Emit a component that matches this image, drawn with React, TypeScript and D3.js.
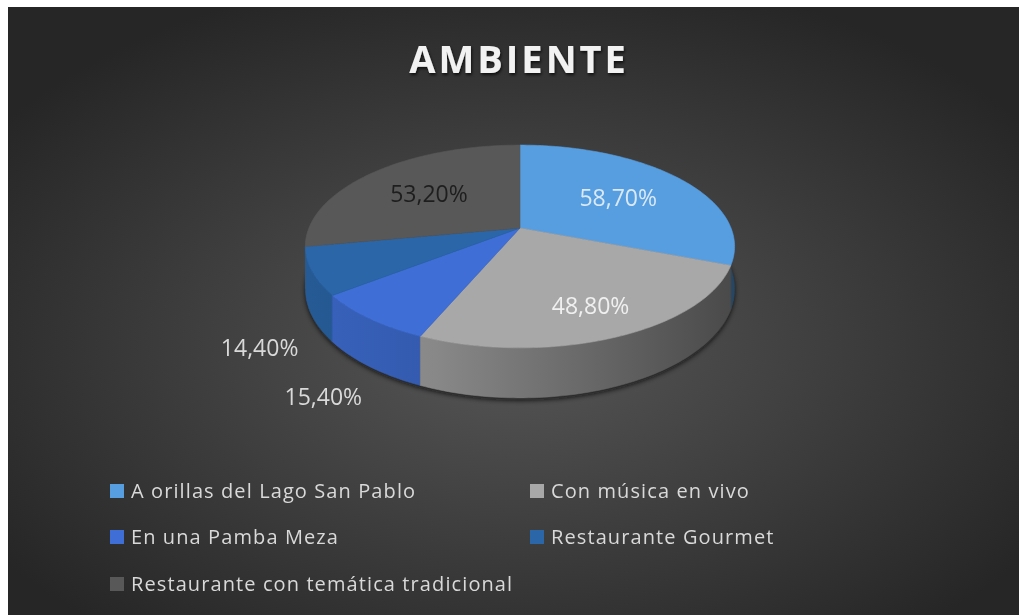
import { useEffect, useRef } from 'react';
import * as d3 from 'd3';

// datos del gráfico
const categories = [
  'A orillas del Lago San Pablo',
  'Con música en vivo',
  'En una Pamba Meza',
  'Restaurante Gourmet',
  'Restaurante con temática tradicional',
];
const values = [58.7, 48.8, 15.4, 14.4, 53.2];
const valueLabels = ['58,70%', '48,80%', '15,40%', '14,40%', '53,20%'];
const colors = ['#579ee0', '#a8a8a8', '#3f6fd6', '#2a66a8', '#585858'];

const width = 1011;
const height = 608;

const App = () => {
  const svgRef = useRef<SVGSVGElement>(null);

  useEffect(() => {
    const svg = d3.select(svgRef.current);
    svg.selectAll('*').remove();
    svg.attr('width', width).attr('height', height);

    const defs = svg.append('defs');

    // fondo con degradado radial
    const bg = defs.append('radialGradient').attr('id', 'bg')
      .attr('cx', '50%').attr('cy', '55%').attr('r', '62%');
    bg.append('stop').attr('offset', '0%').attr('stop-color', '#575757');
    bg.append('stop').attr('offset', '100%').attr('stop-color', '#262626');
    svg.append('rect').attr('width', width).attr('height', height).attr('fill', 'url(#bg)');

    const shadow = defs.append('filter').attr('id', 'tshadow')
      .attr('x', '-10%').attr('y', '-30%').attr('width', '120%').attr('height', '160%');
    shadow.append('feDropShadow').attr('dx', 1).attr('dy', 2)
      .attr('stdDeviation', 1.5).attr('flood-color', '#000').attr('flood-opacity', 0.7);

    const blur = defs.append('filter').attr('id', 'blur');
    blur.append('feGaussianBlur').attr('stdDeviation', 2.5);

    // título
    svg.append('text')
      .attr('x', 511).attr('y', 66)
      .attr('text-anchor', 'middle')
      .attr('font-family', "'Open Sans', sans-serif")
      .attr('font-weight', 700)
      .attr('font-size', 38)
      .attr('letter-spacing', 3)
      .attr('fill', '#f2f2f2')
      .attr('filter', 'url(#tshadow)')
      .text('AMBIENTE');

    // pastel 3D con perspectiva
    const cx = 512, cy = 221;
    const A = 211, B = 98, k = 0.182, depth = 41;
    const proj = (a: number, r: number, h: number): [number, number] => {
      const x = r * Math.sin(a);
      const z = -r * Math.cos(a);
      const w = 1 - k * z;
      return [cx + (A * x) / w, cy + (B * z + depth * h) / w];
    };
    const arcPts = (a0: number, a1: number, r: number, h: number) => {
      const n = Math.max(2, Math.ceil(Math.abs(a1 - a0) / 0.02));
      return d3.range(n + 1).map(i => proj(a0 + ((a1 - a0) * i) / n, r, h));
    };
    const line = d3.line().curve(d3.curveLinear);

    const pie = d3.pie<number>().value(d => d).sort(null);
    const slices = pie(values);

    const g = svg.append('g');

    // sombra bajo el pastel
    g.append('path')
      .attr('d', line(arcPts(0, Math.PI * 2, 1.0, 1.05)) + 'Z')
      .attr('fill', '#0a0a0a')
      .attr('opacity', 0.8)
      .attr('filter', 'url(#blur)');

    // paredes laterales (solo la parte frontal)
    const lo = Math.PI / 2 - 0.3, hi = Math.PI * 1.5 + 0.3;
    const walls = slices
      .map((s, i) => ({ i, a0: Math.max(s.startAngle, lo), a1: Math.min(s.endAngle, hi) }))
      .filter(w => w.a1 > w.a0)
      .sort((p, q) => Math.abs((q.a0 + q.a1) / 2 - Math.PI) - Math.abs((p.a0 + p.a1) / 2 - Math.PI));

    walls.forEach(w => {
      const c = d3.color(colors[w.i])!;
      const gid = `wall${w.i}`;
      const lg = defs.append('linearGradient').attr('id', gid)
        .attr('gradientUnits', 'userSpaceOnUse')
        .attr('x1', cx - A).attr('x2', cx + A).attr('y1', 0).attr('y2', 0);
      lg.append('stop').attr('offset', '0%').attr('stop-color', c.darker(0.35).formatHex());
      lg.append('stop').attr('offset', '30%').attr('stop-color', c.darker(0.6).formatHex());
      lg.append('stop').attr('offset', '100%').attr('stop-color', c.darker(2.3).formatHex());
      const top = arcPts(w.a0, w.a1, 1, 0);
      const bottom = arcPts(w.a0, w.a1, 1, 1).reverse();
      g.append('path')
        .attr('d', line([...top, ...bottom]) + 'Z')
        .attr('fill', `url(#${gid})`)
        .attr('stroke', `url(#${gid})`)
        .attr('stroke-width', 0.6);
    });

    // cara superior
    slices.forEach((s, i) => {
      const pts = [proj(0, 0, 0), ...arcPts(s.startAngle, s.endAngle, 1, 0)];
      g.append('path')
        .attr('d', line(pts) + 'Z')
        .attr('fill', colors[i])
        .attr('stroke', colors[i])
        .attr('stroke-width', 0.6)
        .attr('stroke-linejoin', 'round');
    });

    // etiquetas de datos
    const labelRadius = [0.6, 0.75, 1.25, 1.25, 0.6];
    const labelLift = [0, 0, 1, 1.4, 0];
    const labelColors = ['#dbe9f7', '#f0f0f0', '#d9d9d9', '#d9d9d9', '#1e1e1e'];
    slices.forEach((s, i) => {
      const mid = (s.startAngle + s.endAngle) / 2;
      const [x, y] = proj(mid, labelRadius[i], labelLift[i]);
      g.append('text')
        .attr('x', x + (i === 3 ? 5 : 0)).attr('y', y)
        .attr('text-anchor', 'middle')
        .attr('dominant-baseline', 'central')
        .attr('font-family', "'Open Sans', sans-serif")
        .attr('font-size', 23)
        .attr('fill', labelColors[i])
        .text(valueLabels[i]);
    });

    // leyenda
    const legend = svg.append('g')
      .attr('font-family', "'Open Sans', sans-serif")
      .attr('font-size', 20)
      .attr('fill', '#d9d9d9');
    const colX = [102, 522];
    const rowY = [491, 537, 584];
    categories.forEach((name, i) => {
      const x = colX[i % 2];
      const y = rowY[Math.floor(i / 2)];
      legend.append('rect')
        .attr('x', x).attr('y', y - 14)
        .attr('width', 14).attr('height', 14)
        .attr('fill', colors[i]);
      legend.append('text')
        .attr('x', x + 21).attr('y', y)
        .attr('letter-spacing', 1.1)
        .text(name);
    });
  }, []);

  return (
    <div>
      <div
        style={{ position: 'fixed', left: 8, top: 7, right: 0, bottom: 0, background: '#272727' }}
      ></div>
      <svg
        ref={svgRef}
        style={{ display: 'block', position: 'absolute', left: 8, top: 7 }}
      ></svg>
    </div>
  );
};

export default App;
